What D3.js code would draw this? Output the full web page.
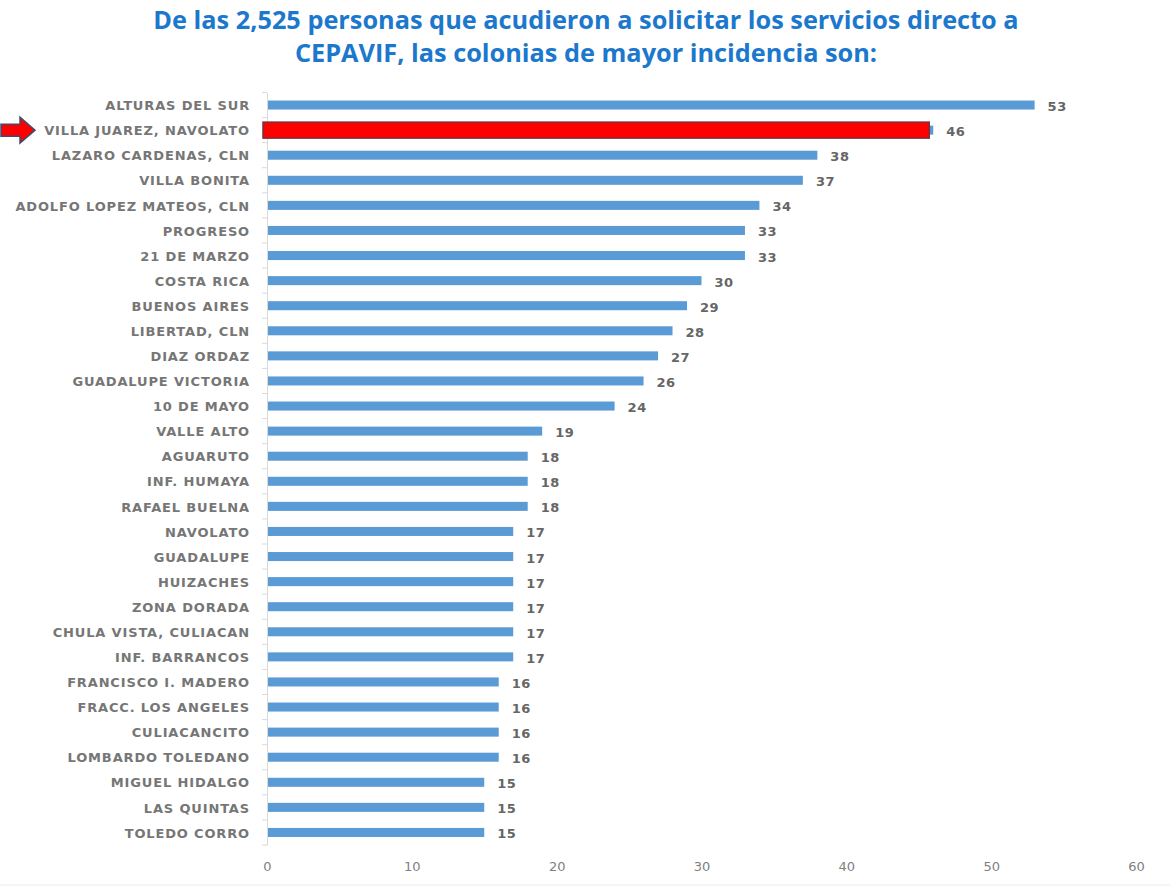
<!DOCTYPE html>
<html>
<head>
<meta charset="utf-8">
<script src="https://cdn.jsdelivr.net/npm/d3@7"></script>
<style>
  body { margin: 0; background: #fff; }
  svg text { font-family: "DejaVu Sans", sans-serif; }
</style>
</head>
<body>
<div id="chart"></div>
<script>
const titleLines = [
  'De las 2,525 personas que acudieron a solicitar los servicios directo a',
  'CEPAVIF, las colonias de mayor incidencia son:'
]
const colonias = [
  'ALTURAS DEL SUR', 'VILLA JUAREZ, NAVOLATO', 'LAZARO CARDENAS, CLN', 'VILLA BONITA',
  'ADOLFO LOPEZ MATEOS, CLN', 'PROGRESO', '21 DE MARZO', 'COSTA RICA', 'BUENOS AIRES',
  'LIBERTAD, CLN', 'DIAZ ORDAZ', 'GUADALUPE VICTORIA', '10 DE MAYO', 'VALLE ALTO',
  'AGUARUTO', 'INF. HUMAYA', 'RAFAEL BUELNA', 'NAVOLATO', 'GUADALUPE', 'HUIZACHES',
  'ZONA DORADA', 'CHULA VISTA, CULIACAN', 'INF. BARRANCOS', 'FRANCISCO I. MADERO',
  'FRACC. LOS ANGELES', 'CULIACANCITO', 'LOMBARDO TOLEDANO', 'MIGUEL HIDALGO',
  'LAS QUINTAS', 'TOLEDO CORRO'
]
const personas = [53, 46, 38, 37, 34, 33, 33, 30, 29, 28, 27, 26, 24, 19, 18, 18, 18,
  17, 17, 17, 17, 17, 17, 16, 16, 16, 16, 15, 15, 15]
const xTicks = [0, 10, 20, 30, 40, 50, 60]
const destacada = 'VILLA JUAREZ, NAVOLATO'

const width = 1170
const height = 888
const margin = { top: 92.5, right: 34, bottom: 43, left: 267 }

const svg = d3.select('#chart')
  .append('svg')
  .attr('width', width)
  .attr('height', height)

// titulo
svg.append('g')
  .selectAll('text')
  .data(titleLines)
  .enter()
  .append('text')
  .attr('x', 586)
  .attr('y', (d, i) => 29 + i * 33)
  .attr('text-anchor', 'middle')
  .style('font-family', '"Open Sans", sans-serif')
  .style('font-weight', 'bold')
  .style('font-size', '25.3px')
  .style('fill', '#1c78cc')
  .text(d => d)

const x = d3.scaleLinear()
  .domain([0, 60])
  .range([margin.left, width - margin.right])

const y = d3.scaleBand()
  .domain(colonias)
  .range([margin.top, height - margin.bottom])
  .paddingInner(0.64)
  .paddingOuter(0.32)

// eje x (solo etiquetas)
const xAxis = svg.append('g')
  .attr('transform', `translate(0, ${height - 26})`)
  .call(d3.axisBottom(x).tickValues(xTicks).tickSize(0).tickPadding(0))
xAxis.select('.domain').remove()
xAxis.selectAll('text')
  .style('font-size', '13px')
  .style('fill', '#7f7f7f')

// eje y
const yAxis = svg.append('g')
  .attr('transform', `translate(${margin.left}, 0)`)
  .call(d3.axisLeft(y).tickSize(0).tickPadding(17))
yAxis.select('.domain').attr('stroke', '#d9d9d9')
yAxis.selectAll('text')
  .attr('dy', '0.4em')
  .style('font-size', '13px')
  .style('font-weight', 'bold')
  .style('letter-spacing', '0.85px')
  .style('fill', '#767676')

// marcas entre categorias
const bounds = colonias.map(c => y(c) - y.step() * y.paddingInner() / 2).concat([y.range()[1]])
svg.append('g')
  .selectAll('line')
  .data(bounds)
  .enter()
  .append('line')
  .attr('x1', margin.left - 5)
  .attr('x2', margin.left)
  .attr('y1', d => d)
  .attr('y2', d => d)
  .attr('stroke', '#d9d9d9')

// barras
svg.append('g')
  .selectAll('rect')
  .data(personas)
  .enter()
  .append('rect')
  .attr('x', x(0) + 1)
  .attr('y', (d, i) => y(colonias[i]))
  .attr('width', d => x(d) - x(0) - 1)
  .attr('height', y.bandwidth())
  .attr('fill', '#5b9bd5')

// barra resaltada
const iDest = colonias.indexOf(destacada)
const cy = y(destacada) + y.bandwidth() / 2
svg.append('rect')
  .attr('x', x(0) - 4)
  .attr('y', cy - 8)
  .attr('width', x(personas[iDest]) - x(0))
  .attr('height', 16)
  .attr('fill', '#ff0000')
  .attr('stroke', '#7a2f3a')
  .attr('stroke-width', 1.5)

// etiquetas de valor
svg.append('g')
  .selectAll('text')
  .data(personas)
  .enter()
  .append('text')
  .attr('x', d => x(d) + 13)
  .attr('y', (d, i) => y(colonias[i]) + y.bandwidth() / 2 + 6)
  .style('font-size', '13px')
  .style('font-weight', 'bold')
  .style('letter-spacing', '0.5px')
  .style('fill', '#666')
  .text(d => d)

// flecha
const arrow = d3.path()
arrow.moveTo(1, cy - 6)
arrow.lineTo(20, cy - 6)
arrow.lineTo(20, cy - 13)
arrow.lineTo(35, cy)
arrow.lineTo(20, cy + 13)
arrow.lineTo(20, cy + 6)
arrow.lineTo(1, cy + 6)
arrow.closePath()
svg.append('path')
  .attr('d', arrow.toString())
  .attr('fill', '#ff0000')
  .attr('stroke', '#3b4e6e')
  .attr('stroke-width', 1.5)

// linea inferior
svg.append('line')
  .attr('x1', 0)
  .attr('x2', width)
  .attr('y1', height - 3)
  .attr('y2', height - 3)
  .attr('stroke', '#ececec')
</script>
</body>
</html>
